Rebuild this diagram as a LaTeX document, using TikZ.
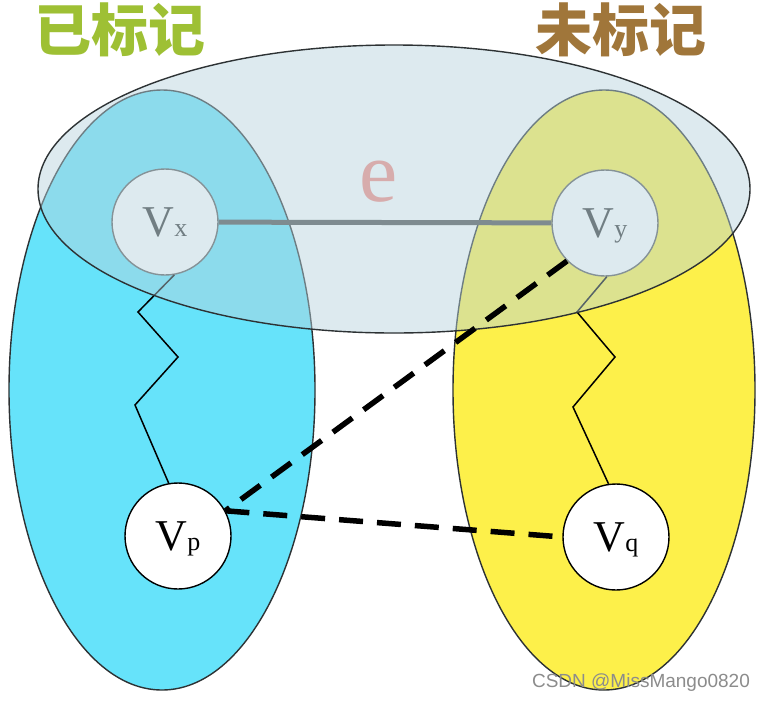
\documentclass[tikz,border=0pt]{standalone}
\usepackage{fontspec}
\setmainfont{Liberation Serif}
\newfontfamily\cjk{Noto Sans CJK SC}
\newfontfamily\wmfont{Liberation Sans}
\definecolor{blueset}{RGB}{102,227,250}
\definecolor{yellowset}{RGB}{253,240,74}
\definecolor{lightset}{RGB}{183,211,221}
\definecolor{markgreen}{RGB}{158,192,52}
\definecolor{markbrown}{RGB}{160,118,58}
\definecolor{elabel}{RGB}{215,172,172}
\definecolor{outline}{RGB}{45,50,52}
\newcommand{\vlab}[1]{{\fontsize{44}{44}\selectfont V}{\fontsize{26}{26}\selectfont #1}}
\tikzset{
  vnode/.style={circle,draw=black,line width=1.4pt,fill=white,minimum size=106pt,inner sep=0pt,text depth=0pt},
  hidnode/.style={vnode,draw=black!65,text=black!80},
  setoutline/.style={draw=outline,line width=1.4pt},
  zig/.style={draw=black,line width=1.5pt,line join=miter},
  dashedge/.style={draw=black,line width=5.5pt,dash pattern=on 24pt off 14pt},
  title/.style={font=\cjk\bfseries\fontsize{57}{62}\selectfont,inner sep=0pt}
}
\begin{document}
\begin{tikzpicture}[x=1pt,y=-1pt]
\useasboundingbox (0,0) rectangle (762,702);
\fill[white] (0,0) rectangle (762,702);
% sets
\draw[setoutline,fill=blueset] (162,390) ellipse [x radius=153pt,y radius=300pt];
\draw[setoutline,fill=yellowset] (604,390) ellipse [x radius=151pt,y radius=300pt];
% nodes
\node[hidnode] (vx) at (165,222) {\vlab{x}};
\node[hidnode] (vy) at (605,223) {\vlab{y}};
\node[vnode] (vp) at (178,536) {\vlab{p}};
\node[vnode] (vq) at (616,537) {\vlab{q}};
% zigzag paths
\draw[zig] (vx.-80) -- (138,312) -- (178,357) -- (135,405) -- (vp.100);
\draw[zig] (vy.-88) -- (577,312) -- (615,357) -- (573,407) -- (vq.98);
% edge e
\draw[black!70,line width=5pt] (vx) -- (vy);
% translucent edge set
\draw[setoutline,fill=lightset,fill opacity=0.47] (394,189) ellipse [x radius=356pt,y radius=144pt];
% dashed connections
\draw[dashedge] (vy.225) -- (vp.28);
\draw[dashedge] (vp.28) -- (vq.180);
% labels
\node[text=elabel,font=\fontsize{86}{90}\selectfont,inner sep=0pt] (e) at (379,182) {e};
\node[title,text=markgreen] (marked) at (120,30) {已标记};
\node[title,text=markbrown] (unmarked) at (621,30) {未标记};
\node[text=black!45,font=\wmfont\fontsize{19}{20}\selectfont,inner sep=0pt] (wm) at (641,683) {CSDN @MissMango0820};
\end{tikzpicture}
\end{document}
